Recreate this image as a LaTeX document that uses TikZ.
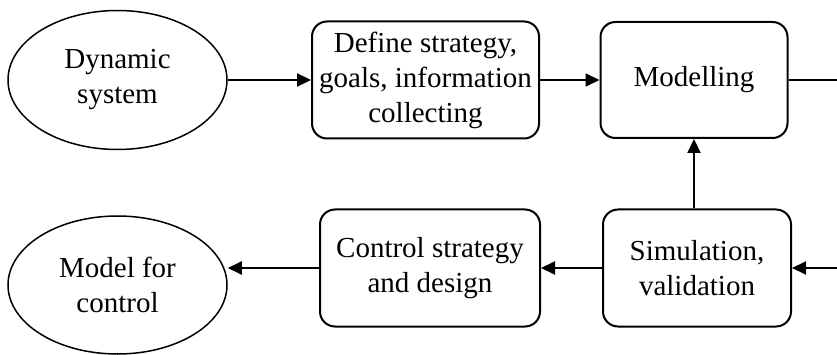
\documentclass[tikz,border=0pt]{standalone}
\usepackage{fontspec}
\setmainfont{Liberation Serif}
\usetikzlibrary{shapes.geometric,arrows.meta}
\begin{document}
\begin{tikzpicture}[x=1pt,y=-1pt,
  every node/.style={font=\fontsize{29}{35}\selectfont, align=center, inner sep=0pt},
  stagebox/.style={draw, line width=2pt, rounded corners=15pt, rectangle},
  endpoint/.style={draw, line width=1.5pt, ellipse, minimum width=219pt, minimum height=139pt},
  flow/.style={line width=2pt, -{Triangle[length=14pt,width=13pt]}},
  plain/.style={line width=2pt}]
  \useasboundingbox (0,0) rectangle (837,355);

  % top row
  \node[endpoint] (dyn) at (117.5,80) {Dynamic\\system};
  \node[stagebox, minimum width=227pt, minimum height=117pt] (def) at (425.5,80)
    {Define strategy,\\goals, information\\collecting};
  \node[stagebox, minimum width=187pt, minimum height=116pt] (mod) at (694,80) {Modelling};

  % bottom row
  \node[stagebox, minimum width=188pt, minimum height=117pt] (sim) at (697,268) {Simulation,\\validation};
  \node[stagebox, minimum width=220pt, minimum height=117pt] (ctl) at (430,268) {Control strategy\\and design};
  \node[endpoint, minimum height=138pt] (mfc) at (117.5,285) {Model for\\control};

  % loose ends at the right margin
  \coordinate (outR) at (837,80);
  \coordinate (inR) at (837,268);

  % connectors
  \draw[flow] (dyn.east) -- (def.west);
  \draw[flow] (def.east) -- (mod.west);
  \draw[plain] (mod.east) -- (outR);
  \draw[flow] (inR) -- (sim.east);
  \draw[flow] (sim.north -| mod.south) -- (mod.south);
  \draw[flow] (sim.west) -- (ctl.east);
  \draw[flow] (ctl.west) -- (ctl.west -| mfc.east);
\end{tikzpicture}
\end{document}
